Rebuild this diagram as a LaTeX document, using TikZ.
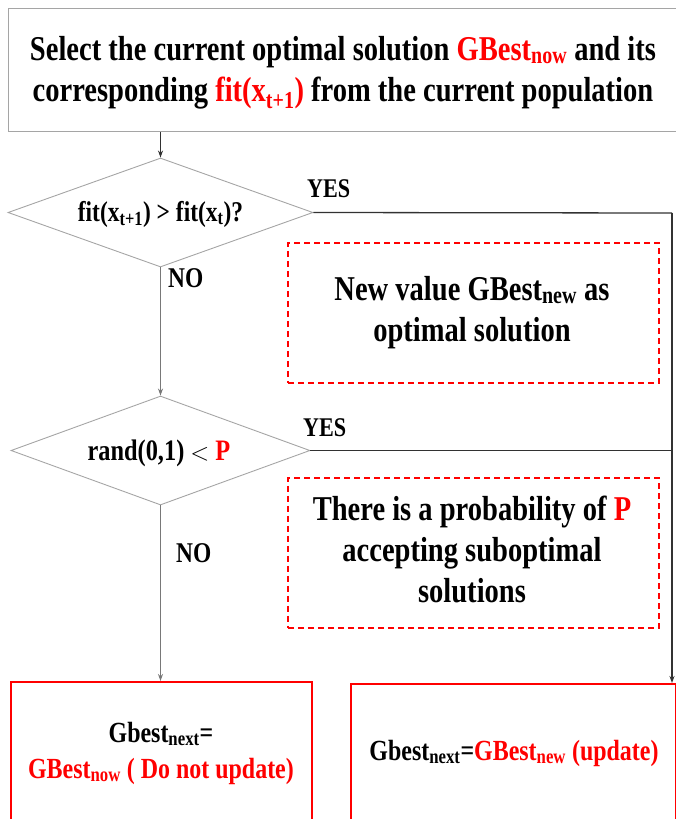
\documentclass[tikz,border=0pt]{standalone}
\usepackage{fontspec}
\setmainfont{Liberation Serif}[FakeStretch=0.82]
\usetikzlibrary{arrows.meta,shapes.geometric}
\definecolor{myred}{RGB}{255,0,0}
\definecolor{boxgray}{RGB}{165,165,165}
\definecolor{linegray}{RGB}{120,120,120}
\definecolor{darkline}{RGB}{50,50,50}
\begin{document}
\begin{tikzpicture}[x=1pt,y=-1pt,
  graybox/.style={draw=boxgray, line width=1pt, inner sep=0pt},
  dia/.style={diamond, draw=boxgray, line width=0.9pt, inner sep=0pt, aspect=2.8},
  dashbox/.style={draw=myred, line width=1.5pt, dash pattern=on 6pt off 4pt, inner sep=0pt},
  redbox/.style={draw=myred, line width=2.2pt, inner sep=0pt},
  conn/.style={draw=linegray, line width=1pt},
  yesline/.style={draw=darkline, line width=1.3pt},
  tip/.style={-{Stealth[length=7pt,width=5pt]}},
  txt/.style={align=center, inner sep=0pt, anchor=base},
  big/.style={font=\fontsize{34.8}{41}\selectfont\bfseries},
  mid/.style={font=\fontsize{29.2}{36}\selectfont\bfseries},
  lbl/.style={font=\fontsize{27}{30}\selectfont\bfseries, inner sep=0pt, anchor=base west}
]
\useasboundingbox (0,0) rectangle (676,819);
\clip (0,0) rectangle (676,819);

% top box
\node[graybox, minimum width=670pt, minimum height=123pt, anchor=north west] (top) at (8,8) {};
\node[txt, big] (toptxt) at (343,101) {Select the current optimal solution \textcolor{myred}{GBest\textsubscript{now}} and its\\corresponding \textcolor{myred}{fit(x\textsubscript{t+1})} from the current population};

% diamonds
\node[dia, minimum width=305pt, minimum height=109pt] (d1) at (160.5,212.5) {};
\node[txt, font=\fontsize{28.6}{30}\selectfont\bfseries] (d1txt) at (160.5,221) {fit(x\textsubscript{t+1}) > fit(x\textsubscript{t})?};
\node[dia, minimum width=299pt, minimum height=109pt] (d2) at (160.5,450.5) {};
\node[txt, font=\fontsize{29.7}{30}\selectfont\bfseries] (d2txt) at (159,460) {rand(0,1) {\fontsize{38}{38}\selectfont$<$} \textcolor{myred}{P}};

% dashed boxes
\node[dashbox, minimum width=371pt, minimum height=140pt, anchor=north west] (n1) at (287,242) {};
\node[txt, big] (n1txt) at (472,341) {New value GBest\textsubscript{new} as\\optimal solution};
\node[dashbox, minimum width=371pt, minimum height=150pt, anchor=north west] (n2) at (287,477) {};
\node[txt, big] (n2txt) at (472,602) {There is a probability of \textcolor{myred}{P}\\accepting suboptimal\\solutions};

% bottom boxes
\node[redbox, minimum width=301pt, minimum height=170pt, anchor=north west] (bl) at (10,681) {};
\node[txt, mid] (bltxt) at (161,778) {Gbest\textsubscript{next}=\\\textcolor{myred}{GBest\textsubscript{now} ( Do not update)}};
\node[redbox, minimum width=325pt, minimum height=170pt, anchor=north west] (br) at (350,683) {};
\node[txt, mid] (brtxt) at (514,760) {Gbest\textsubscript{next}=\textcolor{myred}{GBest\textsubscript{new} (update)}};

% labels
\node[lbl] (yes1) at (307,197) {YES};
\node[lbl] (yes2) at (303,436) {YES};
\node[lbl, font=\fontsize{28.6}{30}\selectfont\bfseries] (no1) at (168,287) {NO};
\node[lbl, font=\fontsize{28.6}{30}\selectfont\bfseries] (no2) at (176,562) {NO};

% connectors
\coordinate (corner) at (672,213);
\draw[conn, draw=darkline, tip] (d1.north |- top.south) -- (d1.north);
\draw[conn, tip] (d1.south) -- (d2.north);
\draw[conn, tip] (d2.south) -- (d2.south |- bl.north);
\draw[yesline] (d1.east) -- (corner);
\draw[yesline, tip] (corner) -- (corner |- br.north);
\draw[yesline] (d2.east) -- (d2.east -| corner);
\end{tikzpicture}
\end{document}
